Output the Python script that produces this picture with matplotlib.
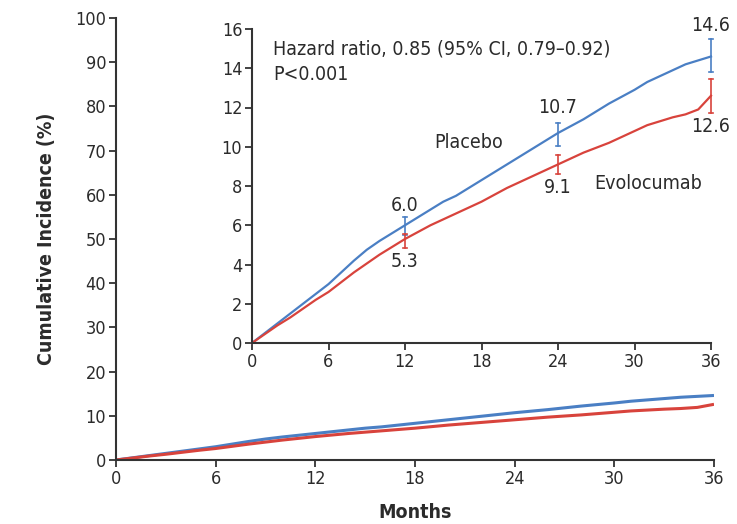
import matplotlib
matplotlib.use("Agg")
import matplotlib.pyplot as plt
import numpy as np

plt.rcParams['font.family'] = ['DejaVu Sans']
plt.rcParams['font.stretch'] = 'condensed'

months = list(range(0, 37))
placebo = [0, 0.5, 1.0, 1.5, 2.0, 2.5, 3.0, 3.6, 4.2, 4.75, 5.2, 5.6, 6.0,
           6.4, 6.8, 7.2, 7.5, 7.9, 8.3, 8.7, 9.1, 9.5, 9.9, 10.3, 10.7,
           11.05, 11.4, 11.8, 12.2, 12.55, 12.9, 13.3, 13.6, 13.9, 14.2, 14.4, 14.6]
evolocumab = [0, 0.45, 0.9, 1.3, 1.75, 2.2, 2.6, 3.1, 3.6, 4.05, 4.5, 4.9, 5.3,
              5.65, 6.0, 6.3, 6.6, 6.9, 7.2, 7.55, 7.9, 8.2, 8.5, 8.8, 9.1,
              9.4, 9.7, 9.95, 10.2, 10.5, 10.8, 11.1, 11.3, 11.5, 11.65, 11.9, 12.6]

ci_months = [12, 24, 36]
placebo_est = [6.0, 10.7, 14.6]
placebo_lo = [5.5, 10.05, 13.8]
placebo_hi = [6.4, 11.2, 15.5]
evo_est = [5.3, 9.1, 12.6]
evo_lo = [4.85, 8.6, 11.7]
evo_hi = [5.55, 9.6, 13.45]

hr_text = "Hazard ratio, 0.85 (95% CI, 0.79\u20130.92)"
p_text = "P<0.001"

BLUE = '#4a7fc4'
RED = '#d8433c'
TXT = '#2b2b2b'
SP = '#333333'

fig = plt.figure(figsize=(7.37, 5.24), dpi=100)

def style(ax):
    for s in ['top', 'right']:
        ax.spines[s].set_visible(False)
    for s in ['left', 'bottom']:
        ax.spines[s].set_linewidth(1.5)
        ax.spines[s].set_color(SP)
    ax.tick_params(direction='out', length=5, width=1.3, color=SP,
                   labelsize=13, labelcolor=TXT, pad=2)

ax = fig.add_axes([116/737, 1-460/524, (714-116)/737, (460-18)/524])
style(ax)
ax.plot(months, placebo, color=BLUE, lw=2.2, solid_capstyle='butt')
ax.plot(months, evolocumab, color=RED, lw=2.2, solid_capstyle='butt')
ax.set_xlim(0, 36)
ax.set_ylim(0, 100)
ax.set_xticks(range(0, 37, 6))
ax.set_yticks(range(0, 101, 10))
ax.set_xlabel("Months", fontsize=14, fontweight='bold', color=TXT, labelpad=11)
ax.set_ylabel("Cumulative Incidence (%)", fontsize=14, fontweight='bold', color=TXT, labelpad=14)
ax.patch.set_alpha(0)

ins = fig.add_axes([252/737, 1-343/524, (711-252)/737, (343-29)/524])
style(ins)
ins.plot(months, placebo, color=BLUE, lw=1.6)
ins.plot(months, evolocumab, color=RED, lw=1.6)
for m, lo, hi in zip(ci_months, placebo_lo, placebo_hi):
    ins.plot([m, m], [lo, hi], color=BLUE, lw=1.2)
    ins.plot([m - 0.12, m + 0.12], [lo, lo], color=BLUE, lw=1.2)
    ins.plot([m - 0.12, m + 0.12], [hi, hi], color=BLUE, lw=1.2)
for m, lo, hi in zip(ci_months, evo_lo, evo_hi):
    ins.plot([m, m], [lo, hi], color=RED, lw=1.2)
    ins.plot([m - 0.12, m + 0.12], [lo, lo], color=RED, lw=1.2)
    ins.plot([m - 0.12, m + 0.12], [hi, hi], color=RED, lw=1.2)
ins.set_xlim(0, 36)
ins.set_ylim(0, 16)
ins.set_xticks(range(0, 37, 6))
ins.set_yticks(range(0, 17, 2))
for ln in ins.lines:
    ln.set_clip_on(False)

fs = 14
ins.text(1.65, 15.0, hr_text, fontsize=fs, color=TXT, ha='left', va='center')
ins.text(1.65, 13.7, p_text, fontsize=fs, color=TXT, ha='left', va='center')
ins.text(17.0, 10.2, "Placebo", fontsize=fs, color=TXT, ha='center', va='center')
ins.text(31.1, 8.15, "Evolocumab", fontsize=fs, color=TXT, ha='center', va='center')
for m, v, dy in zip(ci_months, placebo_est, [1.0, 1.3, 1.6]):
    ins.text(m, v + dy, f"{v:.1f}", fontsize=fs, color=TXT, ha='center', va='center')
for m, v, dy in zip(ci_months, evo_est, [-1.15, -1.2, -1.55]):
    ins.text(m, v + dy, f"{v:.1f}", fontsize=fs, color=TXT, ha='center', va='center')

fig.savefig("out.png", dpi=100)
